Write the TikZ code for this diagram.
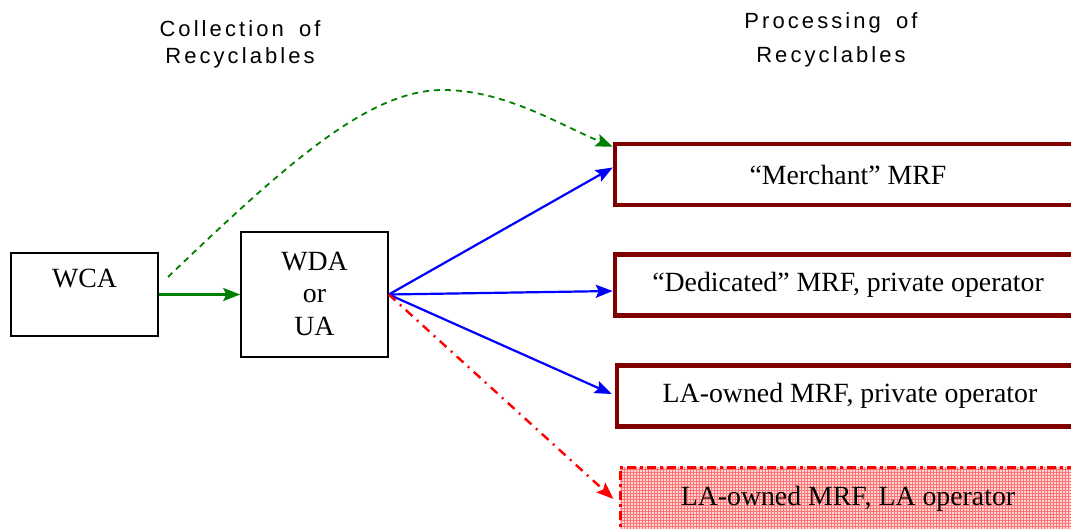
\documentclass[tikz,border=0pt]{standalone}
\usepackage{fontspec}
\setmainfont{Liberation Serif}
\newfontfamily\headfont{Liberation Sans}[LetterSpace=14]
\usepackage{xcolor}
\definecolor{cMRF}{HTML}{800000}
\definecolor{cFlow}{HTML}{0000FF}
\definecolor{cDirect}{HTML}{008000}
\definecolor{cOwn}{HTML}{FF0000}
\usepackage{tikz}
\usetikzlibrary{arrows.meta,patterns}
\tikzset{
  node-auth/.style={draw=black,line width=1.5pt,minimum width=147pt,
    inner sep=0pt,align=center,font=\fontsize{27.8}{32.5}\selectfont},
  node-mrf/.style={draw=cMRF,line width=4.5pt,minimum width=466pt,
    minimum height=61pt,inner sep=0pt,font=\fontsize{27.8}{32}\selectfont},
  % the LA-run facility: dash-dot red border over a fine pink grid
  node-own/.style={draw=cOwn,line width=3pt,
    dash pattern=on 9pt off 4pt on 3pt off 4pt,
    preaction={fill=cOwn!16},pattern=grid,pattern color=cOwn!55,
    minimum width=456pt,minimum height=64pt,inner sep=0pt,
    font=\fontsize{27.8}{32}\selectfont},
  node-head/.style={align=center,inner sep=0pt},
  arrow/.style={-{Stealth[length=17pt,width=13pt,inset=3pt]},line width=2.2pt,
    draw=cFlow},
  arrow-direct/.style={-{Stealth[length=17pt,width=13pt,inset=3pt]},
    line width=2.2pt,draw=cDirect},
  arrow-skip/.style={arrow-direct,line width=1.8pt,dash pattern=on 6pt off 5pt},
  arrow-own/.style={-{Stealth[length=17pt,width=13pt,inset=3pt]},line width=2.4pt,
    draw=cOwn,dash pattern=on 9pt off 6pt on 2pt off 6pt},
}
\begin{document}
\begin{tikzpicture}[x=1pt,y=-1pt]
  \useasboundingbox (0,0) rectangle (1071,529);
  \node[node-head,font=\headfont\fontsize{22}{27}\selectfont] (head-coll) at (240,44)
    {Collection\hspace{6pt} of\\Recyclables};
  \node[node-head,font=\headfont\fontsize{22}{34}\selectfont] (head-proc) at (831,40)
    {Processing\hspace{6pt} of\\Recyclables};
  \node[node-auth,minimum height=83pt] (WCA) at (84.5,294.5) {WCA\\\phantom{WCA}};
  \node[node-auth,minimum height=125pt] (WDA) at (314.5,294.5) {WDA\\or\\UA\rule[-2pt]{0pt}{1pt}};
  \node[node-mrf] (merchant) at (848,174.5) {``Merchant'' MRF};
  \node[node-mrf] (dedicated) at (848,285) {``Dedicated'' MRF, private operator};
  \node[node-mrf] (la-private) at (850,396) {LA-owned MRF, private operator};
  \node[node-own] (la-own) at (848,499) {LA-owned MRF, LA operator};
  \coordinate (skip-start) at (168,277);
  \coordinate (skip-top) at (443,90);
  \draw[arrow-direct] (WCA.east) -- (WDA.west);
  \draw[arrow-skip] (skip-start) .. controls (290,160) and (370,90) .. (skip-top)
    .. controls (505,90) and (560,125) .. ([yshift=-5pt]merchant.north west);
  \draw[arrow] (WDA.east) -- ([yshift=7pt]merchant.west);
  \draw[arrow] (WDA.east) -- ([yshift=-6pt]dedicated.west);
  \draw[arrow] (WDA.east) -- ([xshift=-3pt,yshift=2pt]la-private.west);
  \draw[arrow-own] (WDA.east) -- ([xshift=-5pt]la-own.west);
\end{tikzpicture}
\end{document}
